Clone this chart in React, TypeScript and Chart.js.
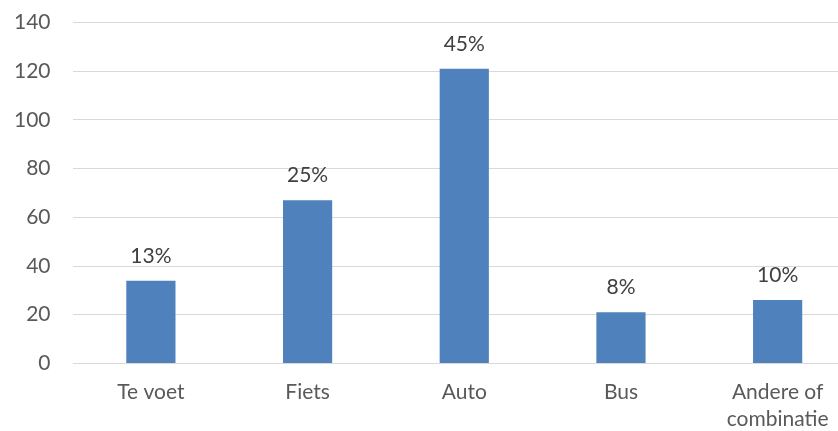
import React, { useEffect, useRef } from "react";
import { Chart, registerables } from "chart.js";

Chart.register(...registerables);

const categories: (string | string[])[] = ["Te voet", "Fiets", "Auto", "Bus", ["Andere of", "combinatie"]];
const counts: number[] = [34, 67, 121, 21, 26];
const percentLabels: string[] = ["13%", "25%", "45%", "8%", "10%"];
const yTicks = { min: 0, max: 140, step: 20 };

const FONT = "Lato, 'Open Sans', sans-serif";

const valueLabelPlugin = {
  id: "valueLabels",
  afterDatasetsDraw(chart: any) {
    const ctx = chart.ctx;
    const meta = chart.getDatasetMeta(0);
    ctx.save();
    ctx.font = `21px ${FONT}`;
    ctx.fillStyle = "#404040";
    ctx.textAlign = "center";
    ctx.textBaseline = "alphabetic";
    meta.data.forEach((bar: any, i: number) => {
      ctx.fillText(percentLabels[i], bar.x, bar.y - 18);
    });
    ctx.restore();
  },
};

export default function App() {
  const ref = useRef<HTMLCanvasElement | null>(null);
  useEffect(() => {
    if (!ref.current) return;
    const chart = new Chart(ref.current, {
      type: "bar",
      data: {
        labels: categories,
        datasets: [
          {
            data: counts,
            backgroundColor: "#4F81BD",
            borderWidth: 0,
            categoryPercentage: 1,
            barPercentage: 0.314,
          },
        ],
      },
      options: {
        animation: false,
        responsive: false,
        devicePixelRatio: 1,
        layout: { padding: { left: -8, right: 0, top: 0, bottom: 0 } },
        plugins: {
          legend: { display: false },
          tooltip: { enabled: false },
        },
        scales: {
          x: {
            grid: { display: false, drawTicks: false },
            border: { display: false },
            ticks: {
              color: "#595959",
              font: { family: FONT, size: 21, lineHeight: 1.3 },
              padding: 15,
              maxRotation: 0,
              autoSkip: false,
            },
          },
          y: {
            min: yTicks.min,
            max: yTicks.max,
            grid: { color: "#D9D9D9", lineWidth: 1, drawTicks: false },
            border: { display: false },
            ticks: {
              stepSize: yTicks.step,
              color: "#595959",
              font: { family: FONT, size: 21 },
              padding: 22,
            },
          },
        },
      },
      plugins: [valueLabelPlugin],
    });
    return () => chart.destroy();
  }, []);
  return (
    <div style={{ position: "fixed", left: 0, top: 0, width: 838, height: 431, overflow: "hidden", background: "#fff" }}>
      <canvas ref={ref} width={856} height={460} style={{ display: "block", position: "absolute", left: 0, top: -12 }} />
    </div>
  );
}
